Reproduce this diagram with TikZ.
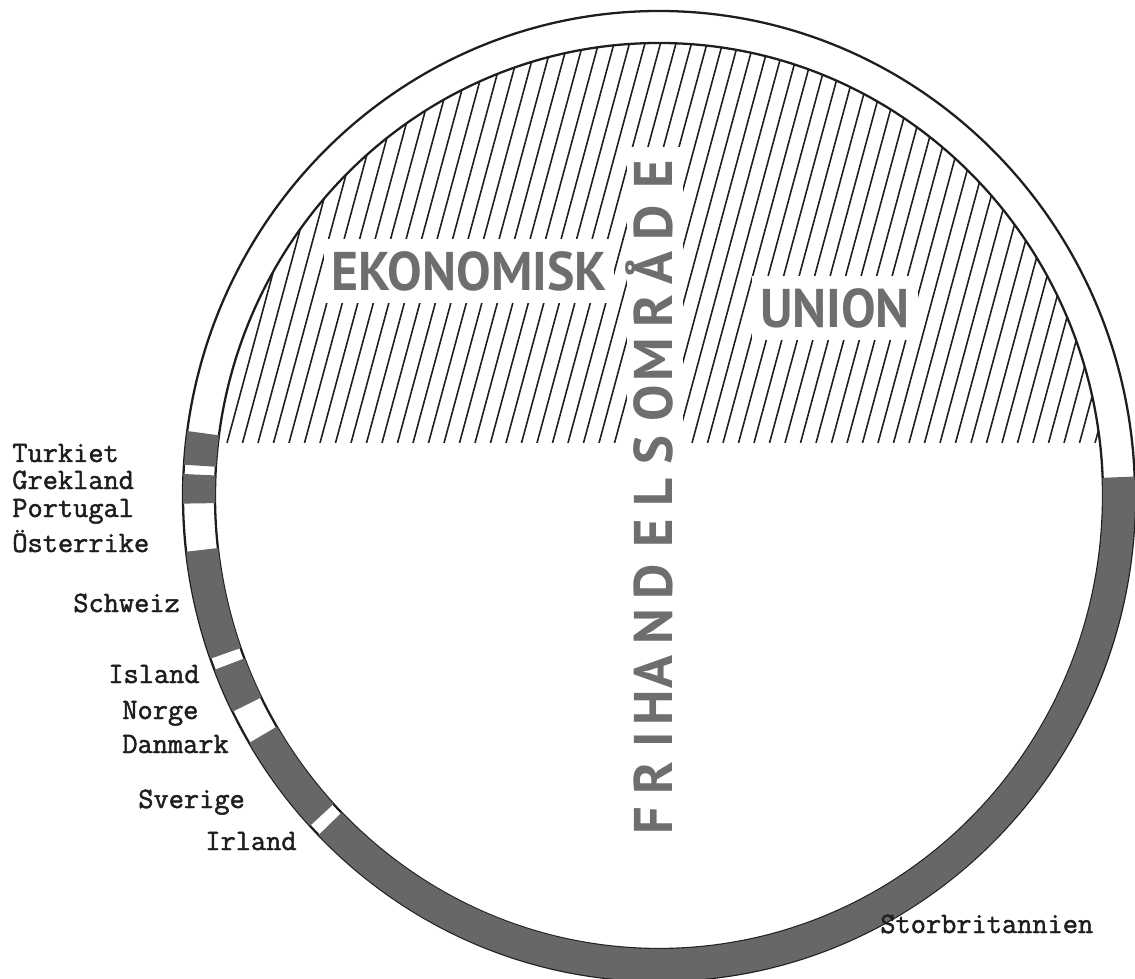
\documentclass[tikz,border=0pt]{standalone}
\usepackage{fontspec}
\newfontfamily\dinfont{PT Sans}
\newfontfamily\typefont{Latin Modern Mono}[FakeBold=1.6]
\definecolor{bandgray}{HTML}{676767}
\definecolor{lettergray}{HTML}{6E6E6E}
\definecolor{ink}{HTML}{1E1E1E}

\begin{document}
\begin{tikzpicture}[
  x=0.2mm, y=0.2mm,
  rim/.style={ink, line width=1.3pt},
  hatch/.style={ink, line width=0.9pt},
  band/.style={fill=bandgray},
  bigword/.style={font=\dinfont\bfseries\fontsize{31}{31}\selectfont,
    text=lettergray, inner sep=0pt},
  mask/.style={fill=white, inner xsep=1.6mm, inner ysep=2.4mm},
  land/.style={font=\typefont\fontsize{16.8}{18}\selectfont, text=ink,
    anchor=base west, inner sep=0pt},
]

% Frame
\useasboundingbox (0,0) rectangle (1135,978);
\coordinate (c) at (659,482);

% =============================================
% Hatched upper half
% =============================================
\begin{scope}
  \clip (c) ellipse [x radius=444, y radius=453];
  \clip (0,535) rectangle (1135,978);
  \foreach \k in {0,...,68}
    \draw[hatch] ({72+15.5*\k},535) -- ++(127,470);
\end{scope}

% Words over the hatching
\node[bigword, mask, xscale=0.95] (ekonomisk) at (469,707) {EKONOMISK};
\node[bigword, mask, xscale=0.95] (union) at (835,670) {UNION};

% Vertical word
\fill[white] (627,535) rectangle (683,831);
\foreach \ch/\py in {F/821, R/778, I/740, H/708, A/672, N/627, D/582, E/533,
                     L/492, S/450, O/403, M/360, R/311, Å/268, D/223, E/174}
  \node[bigword, rotate=90, anchor=base] at (672,{978-\py}) {\ch};

% =============================================
% Ring
% =============================================
\draw[rim] (c) ellipse [x radius=476, y radius=485];
\draw[rim] (c) ellipse [x radius=444, y radius=453];

% Gray band, one piece per country
\foreach \a/\b in {172.3/176.3, 177.4/180.9, 186.6/199.6, 201.0/206.4,
                   210.6/222.85, 224.35/362.3}
  \fill[band, shift={(c)}] (\a:476 and 485)
    arc[start angle=\a, end angle=\b, x radius=476, y radius=485]
    -- (\b:444 and 453)
    arc[start angle=\b, end angle=\a, x radius=444, y radius=453] -- cycle;

% =============================================
% Country labels
% =============================================
\node[land] (turkiet)   at (12,516)  {Turkiet};
\node[land] (grekland)  at (12,489)  {Grekland};
\node[land] (portugal)  at (12,461)  {Portugal};
\node[land] (osterrike) at (12,426)  {Österrike};
\node[land] (schweiz)   at (73,366)  {Schweiz};
\node[land] (island)    at (108,295) {Island};
\node[land] (norge)     at (122,259) {Norge};
\node[land] (danmark)   at (122,225) {Danmark};
\node[land] (sverige)   at (138,170) {Sverige};
\node[land] (irland)    at (205,128) {Irland};
\node[land] (storbrit)  at (880,45)  {Storbritannien};

\end{tikzpicture}
\end{document}
